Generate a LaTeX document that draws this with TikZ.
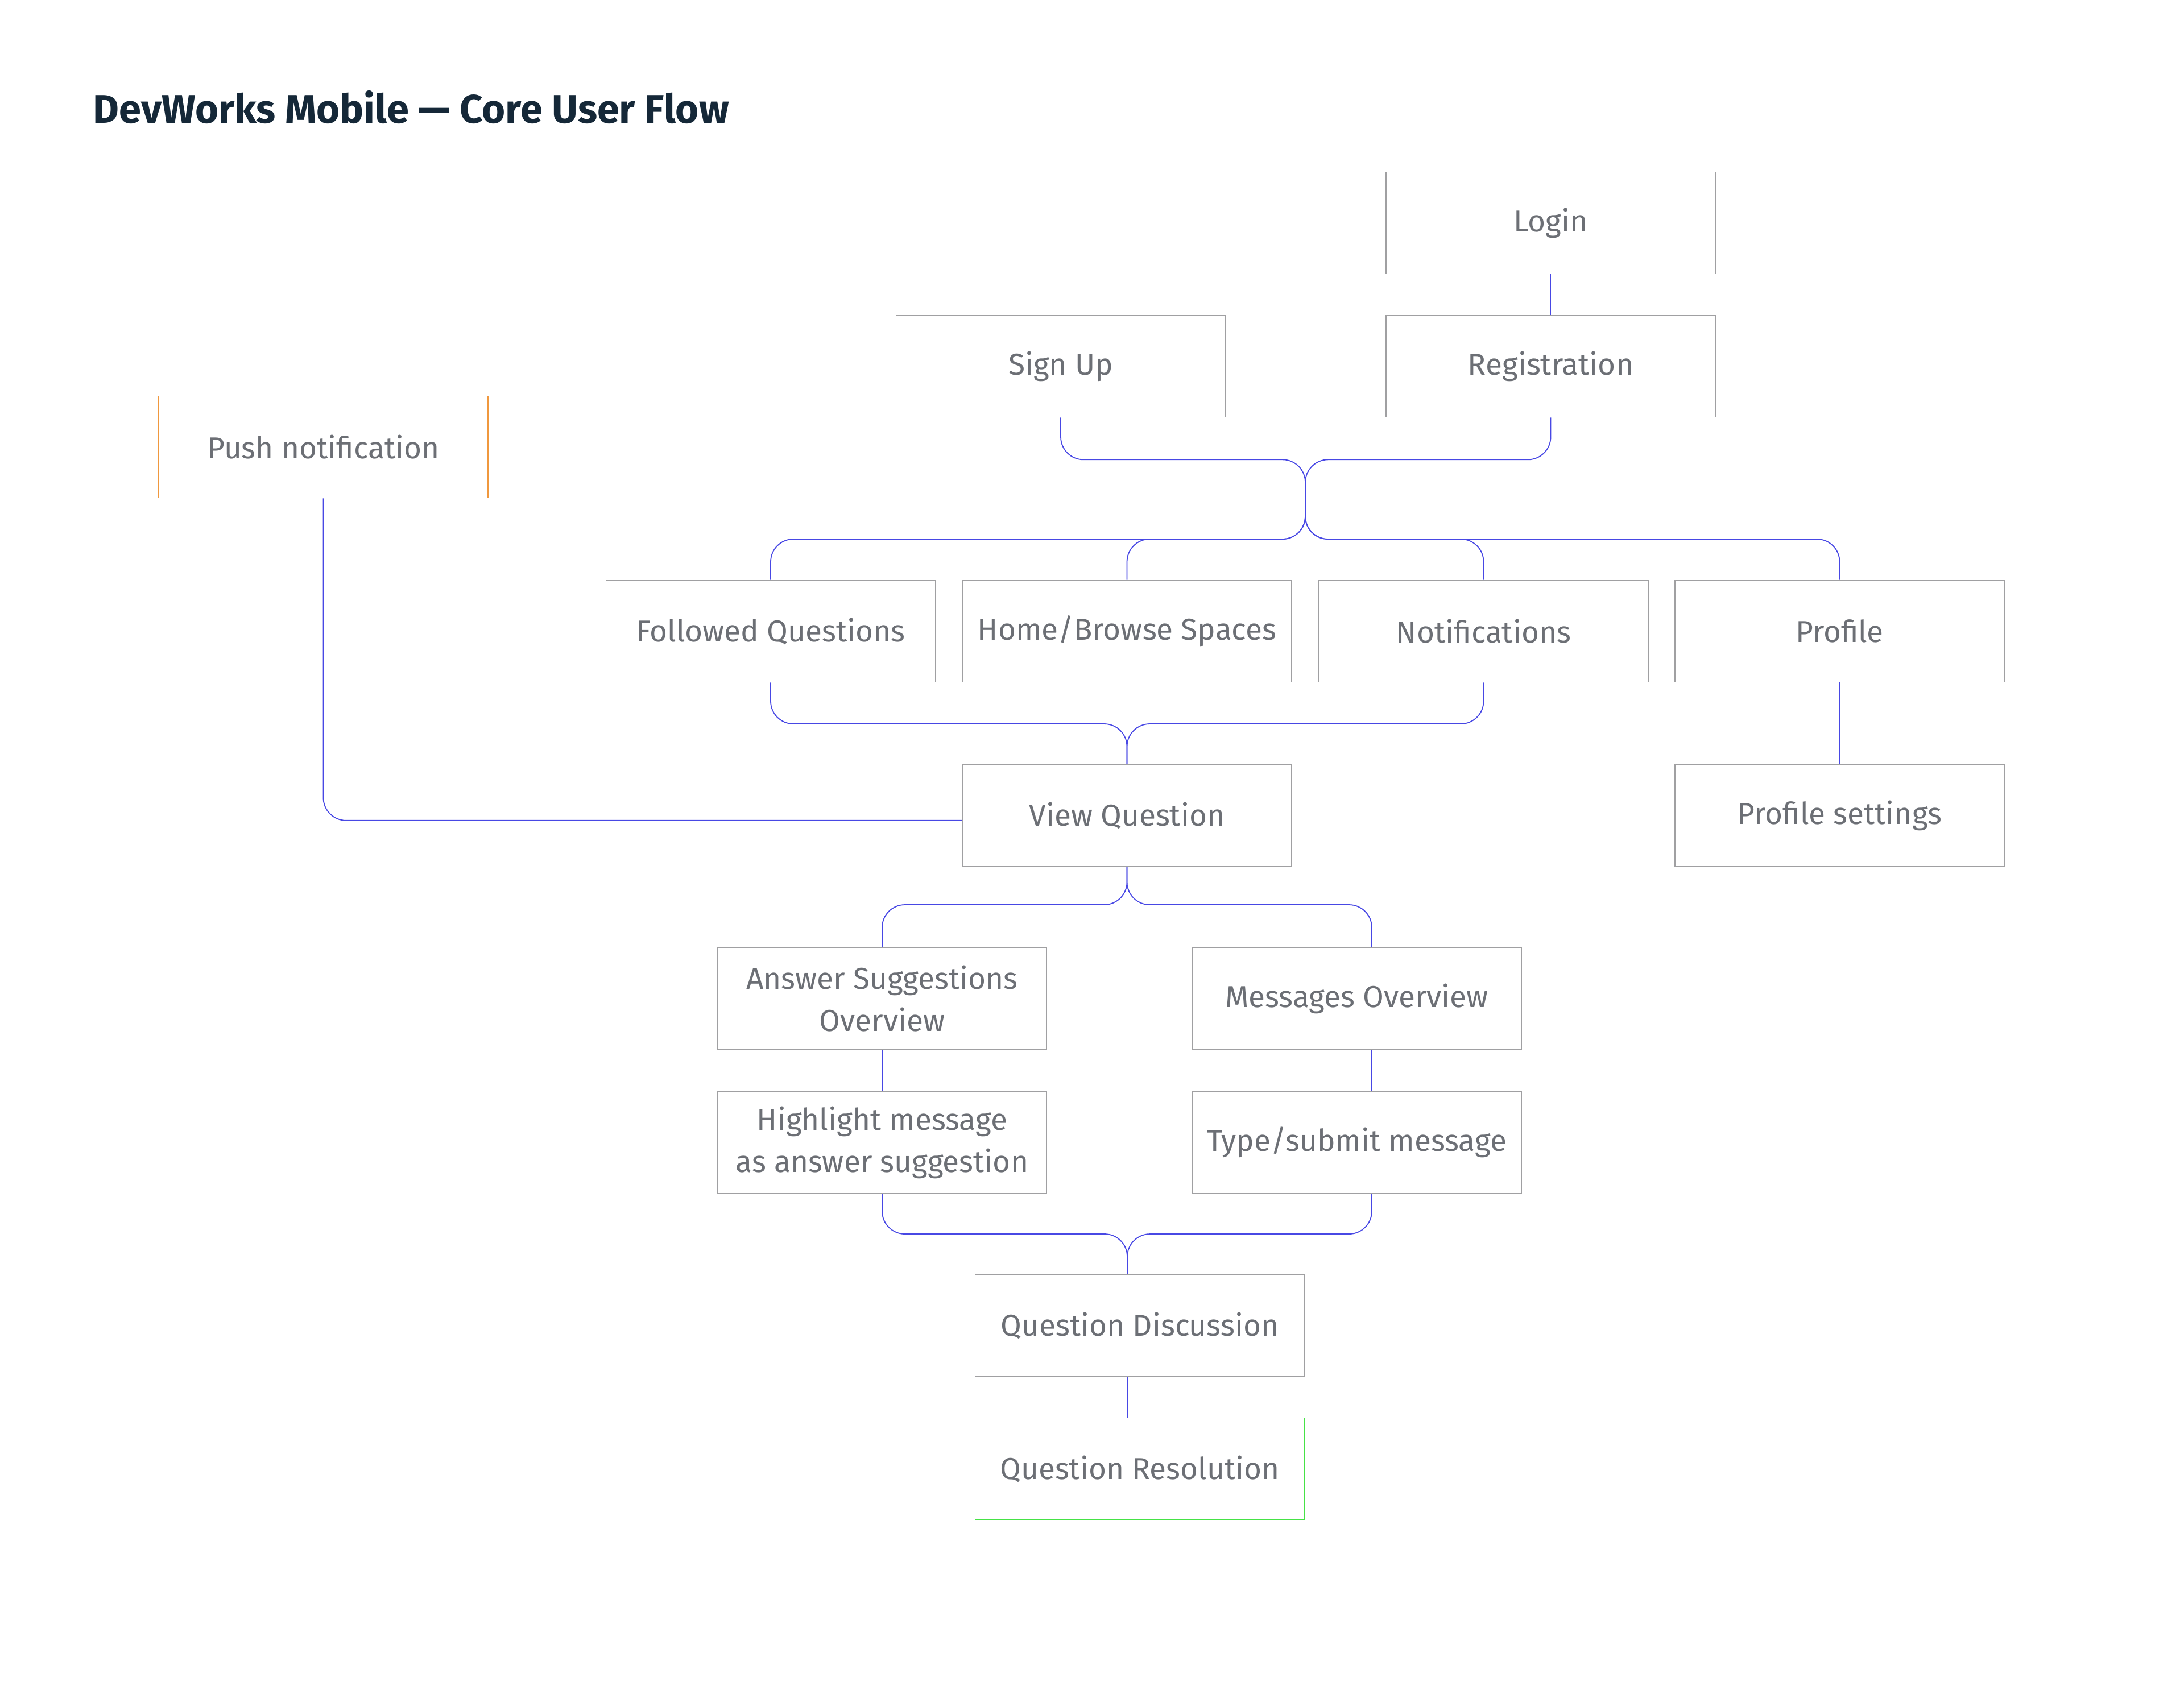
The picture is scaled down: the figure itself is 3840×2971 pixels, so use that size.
\documentclass[tikz,border=0pt]{standalone}
\usepackage{fontspec}
\setmainfont{Fira Sans}
\usetikzlibrary{positioning}

\definecolor{flowline}{RGB}{72,72,228}
\definecolor{boxline}{RGB}{160,160,162}
\definecolor{boxtext}{RGB}{108,111,117}
\definecolor{titletext}{RGB}{21,40,56}
\definecolor{pushline}{RGB}{240,152,62}
\definecolor{doneline}{RGB}{70,226,70}

\begin{document}
\begin{tikzpicture}[x=0.25pt, y=-0.25pt,
  box/.style={draw=boxline, line width=0.4pt, minimum width=144.75pt, minimum height=44.75pt,
    inner sep=0pt, align=center, text=boxtext, font=\fontsize{13.3}{18.5}\selectfont},
  pushbox/.style={box, draw=pushline},
  donebox/.style={box, draw=doneline},
  flow/.style={draw=flowline, line width=0.45pt, rounded corners=10pt}]
  \useasboundingbox (0,0) rectangle (3840,2971);

  % Title
  \node[anchor=base west, inner sep=0pt, text=titletext, font=\fontsize{17.6}{21}\selectfont\bfseries]
    (title) at (163,216) {DevWorks Mobile — Core User Flow};

  % Entry screens
  \node[box] (login) at (2726.5,392) {Login};
  \node[box] (signup) at (1865,644) {Sign Up};
  \node[box] (reg) at (2726.5,644) {Registration};
  \node[pushbox] (push) at (568.5,786) {Push notification};

  % Main tabs
  \node[box] (followed) at (1355,1110) {Followed Questions};
  \node[box] (home) at (1981.5,1110) {Home/Browse Spaces};
  \node[box] (notif) at (2608.5,1110) {Notifications};
  \node[box] (profile) at (3234.5,1110) {Profile};

  % Question screens
  \node[box] (viewq) at (1981.5,1434) {View Question};
  \node[box] (profset) at (3234.5,1434) {Profile settings};
  \node[box] (answers) at (1551,1756) {Answer Suggestions\\Overview};
  \node[box] (msgs) at (2385.5,1756) {Messages Overview};
  \node[box] (highlight) at (1551,2009) {Highlight message\\as answer suggestion};
  \node[box] (typemsg) at (2385.5,2009) {Type/submit message};
  \node[box] (discuss) at (2004,2331) {Question Discussion};
  \node[donebox] (resolve) at (2004,2583) {Question Resolution};

  % Join and split points
  \coordinate (joinup) at (2295,876);
  \coordinate (split) at (2295,948);
  \coordinate (joindown) at (1981.5,1273);
  \coordinate (vqsplit) at (1981.5,1591);
  \coordinate (joinbottom) at (1982,2170);

  % Connectors
  \draw[flow] (login) -- (reg);
  \draw[flow] (signup.south) -- ++(0,74) -| (joinup);
  \draw[flow] (reg.south) -- ++(0,74) -| (joinup);
  \foreach \tab in {followed,home,notif,profile}
    \draw[flow] (joinup) -- (split) -| (\tab.north);
  \draw[flow] (followed.south) |- (joindown) -- (viewq.north);
  \draw[flow] (notif.south) |- (joindown) -- (viewq.north);
  \draw[flow] (home) -- (viewq);
  \draw[flow] (push.south) |- ([yshift=-2.2pt]viewq.west);
  \draw[flow] (profile) -- (profset);
  \draw[flow] (viewq.south) -- (vqsplit) -| (answers.north);
  \draw[flow] (viewq.south) -- (vqsplit) -| ([xshift=6.6pt]msgs.north);
  \draw[flow] (answers) -- (highlight);
  \draw[flow] ([xshift=6.6pt]msgs.south) -- ([xshift=6.6pt]typemsg.north);
  \draw[flow] (highlight.south) |- (joinbottom) -- (joinbottom |- discuss.north);
  \draw[flow] ([xshift=6.6pt]typemsg.south) |- (joinbottom) -- (joinbottom |- discuss.north);
  \draw[flow] (joinbottom |- discuss.south) -- (joinbottom |- resolve.north);
\end{tikzpicture}
\end{document}
